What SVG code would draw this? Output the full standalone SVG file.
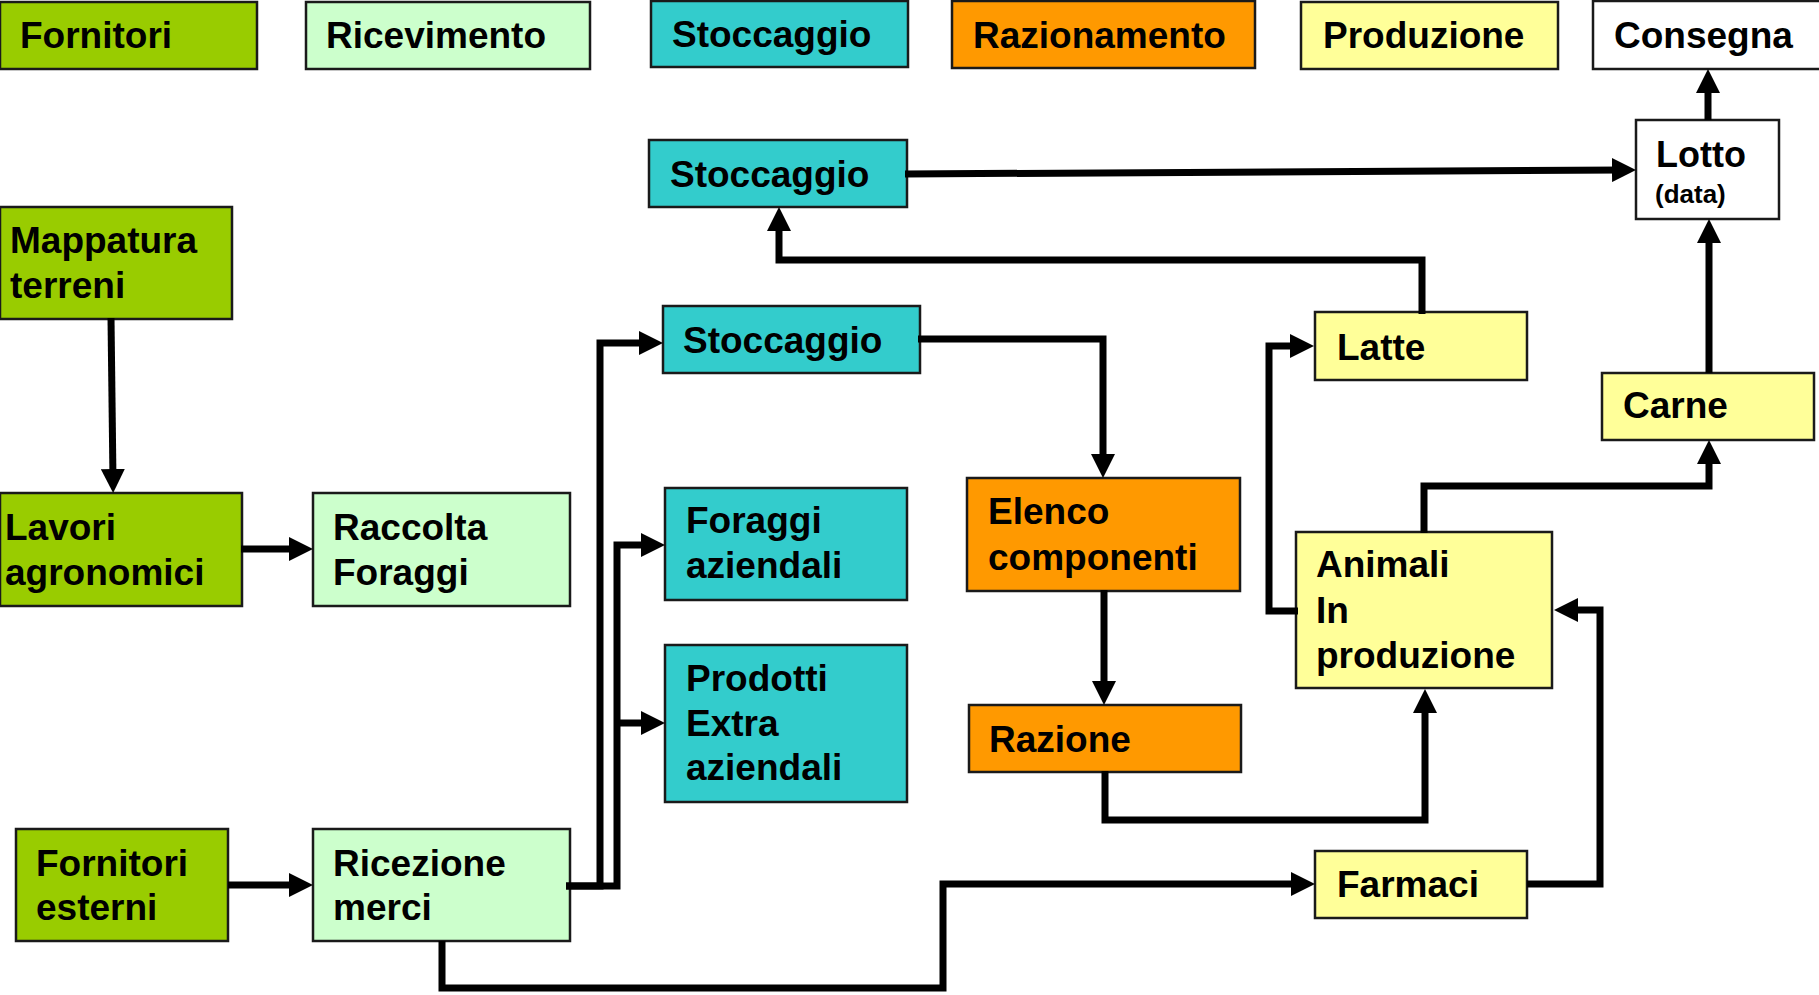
<svg xmlns="http://www.w3.org/2000/svg" width="1819" height="995" viewBox="0 0 1819 995">
<style>
.box{stroke:#1a1a1a;stroke-width:2.5}
.g{fill:#99CC00}.lg{fill:#CCFFCC}.t{fill:#33CCCC}.o{fill:#FF9900}.y{fill:#FFFF99}.w{fill:#FFFFFF}
text{font-family:"Liberation Sans",Arial,Helvetica,sans-serif;font-weight:bold;font-size:37px;fill:#000}
.small{font-size:26px}
.c{fill:none;stroke:#000;stroke-width:7;stroke-linejoin:miter;marker-end:url(#ah)}
</style>
<defs>
<marker id="ah" markerUnits="userSpaceOnUse" markerWidth="24" markerHeight="24" refX="12" refY="12" orient="auto" viewBox="0 0 24 24">
<path d="M0,0 L24,12 L0,24 z" fill="#000"/>
</marker>
</defs>
<rect width="1819" height="995" fill="#fff"/>
<g id="legend-fornitori"><rect class="box g" x="0" y="2" width="257" height="67"/><text x="20" y="48">Fornitori</text></g>
<g id="legend-ricevimento"><rect class="box lg" x="306" y="2" width="284" height="67"/><text x="326" y="48">Ricevimento</text></g>
<g id="legend-stoccaggio"><rect class="box t" x="651" y="1" width="257" height="66"/><text x="672" y="47">Stoccaggio</text></g>
<g id="legend-razionamento"><rect class="box o" x="952" y="1" width="303" height="67"/><text x="973" y="48">Razionamento</text></g>
<g id="legend-produzione"><rect class="box y" x="1301" y="2" width="257" height="67"/><text x="1323" y="48">Produzione</text></g>
<g id="legend-consegna"><rect class="box w" x="1593" y="1" width="228" height="68"/><text x="1614" y="48">Consegna</text></g>

<g id="stoccaggio-top"><rect class="box t" x="649" y="140" width="258" height="67"/><text x="670" y="187">Stoccaggio</text></g>
<g id="lotto"><rect class="box w" x="1636" y="120" width="143" height="99"/><text x="1656" y="167" style="font-size:36px">Lotto</text><text class="small" x="1655" y="203">(data)</text></g>
<g id="mappatura"><rect class="box g" x="0" y="207" width="232" height="112"/><text x="10" y="253">Mappatura</text><text x="10" y="298">terreni</text></g>
<g id="stoccaggio-mid"><rect class="box t" x="663" y="306" width="257" height="67"/><text x="683" y="353">Stoccaggio</text></g>
<g id="latte"><rect class="box y" x="1315" y="312" width="212" height="68"/><text x="1337" y="360">Latte</text></g>
<g id="carne"><rect class="box y" x="1602" y="373" width="212" height="67"/><text x="1623" y="418">Carne</text></g>
<g id="elenco"><rect class="box o" x="967" y="478" width="273" height="113"/><text x="988" y="524">Elenco</text><text x="988" y="570">componenti</text></g>
<g id="foraggi"><rect class="box t" x="665" y="488" width="242" height="112"/><text x="686" y="533">Foraggi</text><text x="686" y="578">aziendali</text></g>
<g id="lavori"><rect class="box g" x="0" y="493" width="242" height="113"/><text x="5" y="540">Lavori</text><text x="5" y="585">agronomici</text></g>
<g id="raccolta"><rect class="box lg" x="313" y="493" width="257" height="113"/><text x="333" y="540">Raccolta</text><text x="333" y="585">Foraggi</text></g>
<g id="animali"><rect class="box y" x="1296" y="532" width="256" height="156"/><text x="1316" y="577">Animali</text><text x="1316" y="623">In</text><text x="1316" y="668">produzione</text></g>
<g id="prodotti"><rect class="box t" x="665" y="645" width="242" height="157"/><text x="686" y="691">Prodotti</text><text x="686" y="736">Extra</text><text x="686" y="780">aziendali</text></g>
<g id="razione"><rect class="box o" x="969" y="705" width="272" height="67"/><text x="989" y="752">Razione</text></g>
<g id="fornitori-esterni"><rect class="box g" x="16" y="829" width="212" height="112"/><text x="36" y="876">Fornitori</text><text x="36" y="920">esterni</text></g>
<g id="ricezione"><rect class="box lg" x="313" y="829" width="257" height="112"/><text x="333" y="876">Ricezione</text><text x="333" y="920">merci</text></g>
<g id="farmaci"><rect class="box y" x="1315" y="851" width="212" height="67"/><text x="1337" y="897">Farmaci</text></g>

<g id="connectors">
<path class="c" d="M111,318 L113,481"/>
<path class="c" d="M241,549 L301,549"/>
<path class="c" d="M228,885 L301,885"/>
<path class="c" d="M566,886 L600,886 L600,343 L651,343"/>
<path class="c" d="M566,886 L617,886 L617,545 L653,545"/>
<path class="c" d="M617,723 L653,723"/>
<path class="c" d="M442,941 L442,988 L943,988 L943,884 L1303,884"/>
<path class="c" d="M1527,884 L1600,884 L1600,610 L1566,610"/>
<path class="c" d="M1105,771 L1105,820 L1425,820 L1425,701"/>
<path class="c" d="M1104,590 L1104,693"/>
<path class="c" d="M918,339 L1103,339 L1103,466"/>
<path class="c" d="M1298,611 L1269,611 L1269,346 L1302,346"/>
<path class="c" d="M1422,314 L1422,260 L779,260 L779,219"/>
<path class="c" d="M1424,533 L1424,486 L1709,486 L1709,452"/>
<path class="c" d="M1709,373 L1709,231"/>
<path class="c" d="M1708,120 L1708,81"/>
<path class="c" d="M905,174 L1624,170"/>
</g>
</svg>
